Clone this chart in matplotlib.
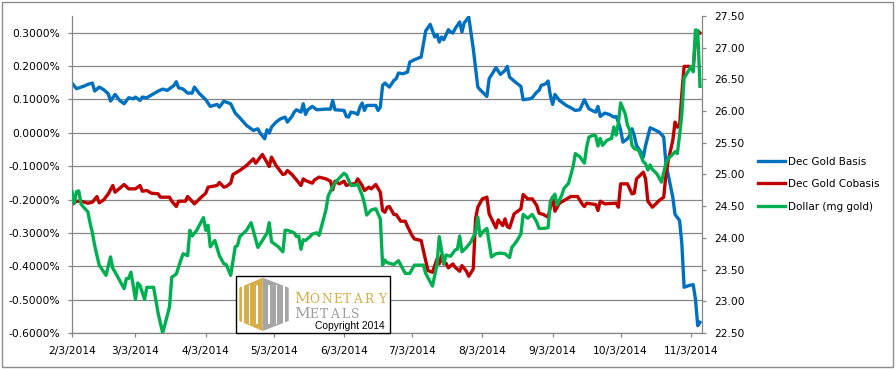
import matplotlib.pyplot as plt
import pandas as pd
from matplotlib.patches import Rectangle, Polygon

# Dec Gold Basis (%), left axis
basis_dates = [
    "2014-02-03", "2014-02-05", "2014-02-07", "2014-02-08", "2014-02-10", "2014-02-12", "2014-02-13",
    "2014-02-15", "2014-02-17", "2014-02-19", "2014-02-20", "2014-02-22", "2014-02-24", "2014-02-26",
    "2014-02-28", "2014-03-02", "2014-03-03", "2014-03-05", "2014-03-06", "2014-03-08", "2014-03-11",
    "2014-03-13", "2014-03-15", "2014-03-17", "2014-03-20", "2014-03-21", "2014-03-22", "2014-03-24",
    "2014-03-26", "2014-03-28", "2014-03-29", "2014-03-31", "2014-04-03", "2014-04-05", "2014-04-08",
    "2014-04-09", "2014-04-11", "2014-04-12", "2014-04-14", "2014-04-16", "2014-04-18", "2014-04-21",
    "2014-04-24", "2014-04-26", "2014-04-27", "2014-04-29", "2014-04-30", "2014-05-01", "2014-05-02",
    "2014-05-04", "2014-05-06", "2014-05-08", "2014-05-09", "2014-05-11", "2014-05-12", "2014-05-13",
    "2014-05-15", "2014-05-16", "2014-05-17", "2014-05-18", "2014-05-20", "2014-05-22", "2014-05-26",
    "2014-05-28", "2014-05-29", "2014-05-30", "2014-06-03", "2014-06-04", "2014-06-05", "2014-06-06",
    "2014-06-08", "2014-06-09", "2014-06-10", "2014-06-11", "2014-06-12", "2014-06-13", "2014-06-17",
    "2014-06-18", "2014-06-19", "2014-06-20", "2014-06-21", "2014-06-23", "2014-06-25", "2014-06-26",
    "2014-06-27", "2014-06-29", "2014-07-01", "2014-07-02", "2014-07-04", "2014-07-07", "2014-07-09",
    "2014-07-11", "2014-07-13", "2014-07-14", "2014-07-15", "2014-07-16", "2014-07-17", "2014-07-19",
    "2014-07-20", "2014-07-21", "2014-07-22", "2014-07-24", "2014-07-25", "2014-07-26", "2014-07-28",
    "2014-07-30", "2014-08-01", "2014-08-02", "2014-08-05", "2014-08-06", "2014-08-09", "2014-08-11",
    "2014-08-13", "2014-08-14", "2014-08-15", "2014-08-17", "2014-08-20", "2014-08-21", "2014-08-24",
    "2014-08-25", "2014-08-27", "2014-08-28", "2014-08-29", "2014-08-31", "2014-09-01", "2014-09-02",
    "2014-09-03", "2014-09-04", "2014-09-06", "2014-09-08", "2014-09-09", "2014-09-11", "2014-09-13",
    "2014-09-15", "2014-09-17", "2014-09-19", "2014-09-21", "2014-09-22", "2014-09-23", "2014-09-24",
    "2014-09-26", "2014-09-28", "2014-09-30", "2014-10-01", "2014-10-02", "2014-10-03", "2014-10-04",
    "2014-10-06", "2014-10-07", "2014-10-08", "2014-10-09", "2014-10-10", "2014-10-12", "2014-10-13",
    "2014-10-14", "2014-10-16", "2014-10-18", "2014-10-20", "2014-10-21", "2014-10-22", "2014-10-23",
    "2014-10-26", "2014-10-27", "2014-10-29", "2014-10-30", "2014-10-31", "2014-11-02", "2014-11-04",
    "2014-11-05", "2014-11-06", "2014-11-07",
]
basis_values = [
    0.149, 0.132, 0.137, 0.139, 0.145, 0.149, 0.125,
    0.137, 0.129, 0.117, 0.095, 0.115, 0.097, 0.087,
    0.105, 0.102, 0.107, 0.097, 0.107, 0.105, 0.117,
    0.125, 0.131, 0.127, 0.142, 0.153, 0.135, 0.131,
    0.119, 0.119, 0.137, 0.119, 0.099, 0.079, 0.085,
    0.077, 0.095, 0.092, 0.087, 0.059, 0.045, 0.022,
    0.007, 0.012, -0.001, -0.018, 0.009, -0.001, 0.017,
    0.032, 0.042, 0.047, 0.032, 0.049, 0.062, 0.069,
    0.062, 0.087, 0.055, 0.069, 0.079, 0.069, 0.071,
    0.071, 0.097, 0.069, 0.067, 0.049, 0.047, 0.062,
    0.059, 0.055, 0.077, 0.089, 0.067, 0.082, 0.082,
    0.067, 0.077, 0.142, 0.149, 0.137, 0.157, 0.162,
    0.179, 0.177, 0.182, 0.212, 0.219, 0.227, 0.305,
    0.325, 0.287, 0.295, 0.272, 0.287, 0.279, 0.309,
    0.302, 0.299, 0.312, 0.332, 0.302, 0.329, 0.347,
    0.252, 0.137, 0.129, 0.109, 0.162, 0.195, 0.175,
    0.187, 0.199, 0.167, 0.155, 0.139, 0.099, 0.102,
    0.105, 0.122, 0.127, 0.142, 0.147, 0.155, 0.112,
    0.085, 0.115, 0.097, 0.087, 0.082, 0.075, 0.067,
    0.069, 0.099, 0.072, 0.065, 0.062, 0.079, 0.049,
    0.059, 0.055, 0.047, 0.049, 0.032, 0.009, -0.028,
    -0.018, -0.008, 0.012, -0.008, -0.038, -0.058, -0.073,
    -0.038, 0.015, 0.009, 0.002, -0.005, -0.013, -0.093,
    -0.193, -0.245, -0.263, -0.333, -0.463, -0.458, -0.455,
    -0.498, -0.578, -0.568,
]

# Dec Gold Cobasis (%), left axis
cobasis_dates = [
    "2014-02-03", "2014-02-05", "2014-02-07", "2014-02-10", "2014-02-12", "2014-02-14", "2014-02-15",
    "2014-02-17", "2014-02-19", "2014-02-21", "2014-02-22", "2014-02-26", "2014-02-28", "2014-03-03",
    "2014-03-05", "2014-03-06", "2014-03-08", "2014-03-10", "2014-03-13", "2014-03-14", "2014-03-18",
    "2014-03-19", "2014-03-21", "2014-03-22", "2014-03-25", "2014-03-26", "2014-03-27", "2014-03-29",
    "2014-04-01", "2014-04-03", "2014-04-04", "2014-04-08", "2014-04-09", "2014-04-11", "2014-04-12",
    "2014-04-14", "2014-04-15", "2014-04-18", "2014-04-21", "2014-04-24", "2014-04-25", "2014-04-28",
    "2014-05-01", "2014-05-02", "2014-05-04", "2014-05-07", "2014-05-08", "2014-05-09", "2014-05-11",
    "2014-05-13", "2014-05-15", "2014-05-16", "2014-05-17", "2014-05-20", "2014-05-21", "2014-05-23",
    "2014-05-26", "2014-05-28", "2014-05-29", "2014-05-30", "2014-06-01", "2014-06-03", "2014-06-04",
    "2014-06-06", "2014-06-08", "2014-06-09", "2014-06-11", "2014-06-12", "2014-06-14", "2014-06-15",
    "2014-06-17", "2014-06-19", "2014-06-20", "2014-06-21", "2014-06-22", "2014-06-23", "2014-06-25",
    "2014-06-26", "2014-06-28", "2014-06-30", "2014-07-01", "2014-07-03", "2014-07-04", "2014-07-07",
    "2014-07-09", "2014-07-10", "2014-07-12", "2014-07-14", "2014-07-15", "2014-07-16", "2014-07-17",
    "2014-07-18", "2014-07-19", "2014-07-21", "2014-07-22", "2014-07-24", "2014-07-25", "2014-07-27",
    "2014-07-28", "2014-07-30", "2014-07-31", "2014-08-01", "2014-08-03", "2014-08-05", "2014-08-06",
    "2014-08-09", "2014-08-10", "2014-08-12", "2014-08-13", "2014-08-14", "2014-08-15", "2014-08-17",
    "2014-08-19", "2014-08-20", "2014-08-21", "2014-08-23", "2014-08-25", "2014-08-27", "2014-08-28",
    "2014-08-30", "2014-09-01", "2014-09-03", "2014-09-04", "2014-09-06", "2014-09-08", "2014-09-11",
    "2014-09-14", "2014-09-16", "2014-09-17", "2014-09-18", "2014-09-22", "2014-09-23", "2014-09-24",
    "2014-09-26", "2014-10-01", "2014-10-02", "2014-10-03", "2014-10-06", "2014-10-08", "2014-10-09",
    "2014-10-10", "2014-10-13", "2014-10-14", "2014-10-15", "2014-10-17", "2014-10-20", "2014-10-22",
    "2014-10-23", "2014-10-24", "2014-10-26", "2014-10-27", "2014-10-28", "2014-10-29", "2014-10-30",
    "2014-10-31", "2014-11-02", "2014-11-04", "2014-11-05", "2014-11-06", "2014-11-07",
]
cobasis_values = [
    -0.215, -0.205, -0.205, -0.211, -0.208, -0.191, -0.210,
    -0.201, -0.183, -0.158, -0.178, -0.155, -0.168, -0.168,
    -0.158, -0.175, -0.173, -0.181, -0.183, -0.193, -0.193,
    -0.205, -0.221, -0.205, -0.205, -0.191, -0.198, -0.213,
    -0.193, -0.181, -0.163, -0.158, -0.149, -0.163, -0.161,
    -0.151, -0.125, -0.113, -0.098, -0.078, -0.091, -0.065,
    -0.101, -0.073, -0.098, -0.125, -0.123, -0.113, -0.125,
    -0.141, -0.158, -0.138, -0.143, -0.151, -0.141, -0.133,
    -0.138, -0.145, -0.171, -0.145, -0.153, -0.145, -0.158,
    -0.153, -0.153, -0.138, -0.158, -0.173, -0.163, -0.168,
    -0.155, -0.178, -0.233, -0.238, -0.223, -0.221, -0.245,
    -0.245, -0.265, -0.265, -0.281, -0.308, -0.318, -0.323,
    -0.383, -0.413, -0.418, -0.378, -0.393, -0.368, -0.393,
    -0.391, -0.405, -0.393, -0.403, -0.415, -0.398, -0.415,
    -0.430, -0.408, -0.258, -0.223, -0.198, -0.193, -0.243,
    -0.285, -0.261, -0.278, -0.258, -0.281, -0.285, -0.243,
    -0.233, -0.228, -0.185, -0.198, -0.198, -0.218, -0.241,
    -0.245, -0.253, -0.193, -0.235, -0.211, -0.203, -0.191,
    -0.191, -0.213, -0.221, -0.211, -0.215, -0.233, -0.205,
    -0.213, -0.211, -0.223, -0.153, -0.153, -0.183, -0.181,
    -0.138, -0.118, -0.138, -0.205, -0.223, -0.203, -0.193,
    -0.123, -0.083, -0.023, 0.032, 0.017, 0.022, 0.117,
    0.199, 0.199, 0.195, 0.275, 0.305, 0.299,
]

# Dollar in mg gold, right axis
dollar_dates = [
    "2014-02-03", "2014-02-04", "2014-02-05", "2014-02-06", "2014-02-07", "2014-02-10", "2014-02-11",
    "2014-02-12", "2014-02-13", "2014-02-15", "2014-02-18", "2014-02-20", "2014-02-21", "2014-02-22",
    "2014-02-26", "2014-02-27", "2014-02-28", "2014-03-01", "2014-03-03", "2014-03-04", "2014-03-05",
    "2014-03-07", "2014-03-08", "2014-03-11", "2014-03-13", "2014-03-15", "2014-03-18", "2014-03-19",
    "2014-03-21", "2014-03-23", "2014-03-24", "2014-03-26", "2014-03-27", "2014-03-28", "2014-03-30",
    "2014-04-02", "2014-04-03", "2014-04-04", "2014-04-05", "2014-04-07", "2014-04-09", "2014-04-11",
    "2014-04-12", "2014-04-14", "2014-04-16", "2014-04-17", "2014-04-18", "2014-04-21", "2014-04-23",
    "2014-04-26", "2014-04-28", "2014-04-29", "2014-04-30", "2014-05-01", "2014-05-02", "2014-05-05",
    "2014-05-07", "2014-05-08", "2014-05-09", "2014-05-12", "2014-05-13", "2014-05-14", "2014-05-15",
    "2014-05-16", "2014-05-17", "2014-05-19", "2014-05-20", "2014-05-22", "2014-05-23", "2014-05-26",
    "2014-05-27", "2014-05-29", "2014-05-31", "2014-06-03", "2014-06-04", "2014-06-06", "2014-06-08",
    "2014-06-09", "2014-06-11", "2014-06-12", "2014-06-13", "2014-06-15", "2014-06-17", "2014-06-18",
    "2014-06-19", "2014-06-20", "2014-06-21", "2014-06-22", "2014-06-25", "2014-06-27", "2014-06-30",
    "2014-07-02", "2014-07-04", "2014-07-08", "2014-07-09", "2014-07-12", "2014-07-14", "2014-07-15",
    "2014-07-17", "2014-07-18", "2014-07-20", "2014-07-22", "2014-07-23", "2014-07-24", "2014-07-25",
    "2014-07-27", "2014-07-29", "2014-07-31", "2014-08-01", "2014-08-02", "2014-08-03", "2014-08-05",
    "2014-08-07", "2014-08-09", "2014-08-11", "2014-08-13", "2014-08-15", "2014-08-16", "2014-08-18",
    "2014-08-20", "2014-08-21", "2014-08-23", "2014-08-25", "2014-08-27", "2014-08-28", "2014-08-30",
    "2014-09-01", "2014-09-02", "2014-09-04", "2014-09-05", "2014-09-07", "2014-09-08", "2014-09-10",
    "2014-09-12", "2014-09-13", "2014-09-15", "2014-09-17", "2014-09-18", "2014-09-19", "2014-09-21",
    "2014-09-22", "2014-09-23", "2014-09-24", "2014-09-25", "2014-09-27", "2014-09-29", "2014-09-30",
    "2014-10-01", "2014-10-02", "2014-10-03", "2014-10-05", "2014-10-06", "2014-10-07", "2014-10-08",
    "2014-10-09", "2014-10-11", "2014-10-13", "2014-10-14", "2014-10-15", "2014-10-16", "2014-10-17",
    "2014-10-19", "2014-10-21", "2014-10-23", "2014-10-24", "2014-10-26", "2014-10-27", "2014-10-28",
    "2014-10-29", "2014-10-30", "2014-10-31", "2014-11-01", "2014-11-03", "2014-11-04", "2014-11-05",
    "2014-11-06", "2014-11-07",
]
dollar_values = [
    24.73, 24.55, 24.73, 24.74, 24.53, 24.41, 24.23,
    24.08, 23.88, 23.57, 23.41, 23.70, 23.52, 23.46,
    23.20, 23.36, 23.36, 23.46, 23.03, 23.29, 23.25,
    23.03, 23.22, 23.22, 22.81, 22.50, 22.91, 23.38,
    23.43, 23.65, 23.75, 23.72, 24.12, 24.03, 24.12,
    24.32, 24.12, 24.20, 23.86, 23.96, 23.72, 23.59,
    23.58, 23.41, 23.86, 23.88, 24.02, 24.12, 24.24,
    23.85, 23.96, 24.02, 24.07, 24.24, 23.94, 23.86,
    23.78, 24.12, 24.12, 24.08, 24.02, 24.03, 23.82,
    23.97, 23.96, 24.02, 24.06, 24.08, 24.04, 24.44,
    24.66, 24.81, 24.91, 25.02, 24.99, 24.83, 24.83,
    24.85, 24.67, 24.54, 24.36, 24.44, 24.46, 24.38,
    24.30, 23.57, 23.65, 23.61, 23.58, 23.64, 23.44,
    23.44, 23.57, 23.57, 23.44, 23.24, 23.58, 24.02,
    23.59, 23.73, 23.71, 23.81, 23.82, 24.03, 23.78,
    23.85, 23.94, 24.09, 24.33, 24.03, 24.09, 24.15,
    23.70, 23.75, 23.76, 23.75, 23.69, 23.85, 23.94,
    24.06, 24.37, 24.31, 24.37, 24.25, 24.15, 24.15,
    24.16, 24.58, 24.69, 24.52, 24.67, 24.78, 24.86,
    25.12, 25.33, 25.28, 25.18, 25.43, 25.59, 25.62,
    25.61, 25.45, 25.57, 25.46, 25.54, 25.57, 25.75,
    25.62, 25.81, 26.13, 25.96, 25.78, 25.70, 25.46,
    25.41, 25.38, 25.20, 25.17, 25.07, 25.15, 25.08,
    25.01, 24.88, 25.18, 25.25, 25.32, 25.36, 25.33,
    25.62, 25.95, 26.52, 26.58, 26.70, 26.62, 27.28,
    27.27, 26.39,
]

tick_dates = ["2014-02-03", "2014-03-03", "2014-04-03", "2014-05-03", "2014-06-03",
              "2014-07-03", "2014-08-03", "2014-09-03", "2014-10-03", "2014-11-03"]
tick_labels = ["2/3/2014", "3/3/2014", "4/3/2014", "5/3/2014", "6/3/2014",
               "7/3/2014", "8/3/2014", "9/3/2014", "10/3/2014", "11/3/2014"]
left_ticks = [-0.6, -0.5, -0.4, -0.3, -0.2, -0.1, 0.0, 0.1, 0.2, 0.3]
right_ticks = [22.5, 23.0, 23.5, 24.0, 24.5, 25.0, 25.5, 26.0, 26.5, 27.0, 27.5]

BLUE = "#0070C0"
RED = "#C00000"
GREEN = "#00B050"
GRID = "#868686"
GOLD = "#D6AE45"
SILVER = "#A5A5A5"

W, H = 896, 369


def px(x, y):
    return x / W, 1 - y / H


fig = plt.figure(figsize=(W / 100, H / 100), dpi=100)
ax = fig.add_axes([72 / W, 1 - 333 / H, (701.5 - 72) / W, (333 - 16) / H])
ax2 = ax.twinx()

lw = 2.4
l1, = ax.plot(pd.to_datetime(basis_dates), basis_values, color=BLUE, lw=lw,
              solid_joinstyle="round", label="Dec Gold Basis")
l2, = ax.plot(pd.to_datetime(cobasis_dates), cobasis_values, color=RED, lw=lw,
              solid_joinstyle="round", label="Dec Gold Cobasis")
l3, = ax2.plot(pd.to_datetime(dollar_dates), dollar_values, color=GREEN, lw=lw,
               solid_joinstyle="round", label="Dollar (mg gold)")

ax.set_xlim(pd.Timestamp("2014-02-03"), pd.Timestamp("2014-11-07 16:00"))
ax.set_ylim(-0.6, 0.35)
ax2.set_ylim(22.5, 27.5)

ax.set_xticks(pd.to_datetime(tick_dates))
ax.set_xticklabels(tick_labels)
ax.set_yticks(left_ticks)
ax.set_yticklabels([f"{v:.4f}%" for v in left_ticks])
ax2.set_yticks(right_ticks)
ax2.set_yticklabels([f"{v:.2f}" for v in right_ticks])

ax.yaxis.grid(True, color=GRID, lw=0.9)
ax.set_axisbelow(True)

for a in (ax, ax2):
    a.spines["top"].set_visible(False)
    for s in ("left", "right", "bottom"):
        a.spines[s].set_color(GRID)
        a.spines[s].set_linewidth(0.9)
ax.spines["right"].set_visible(False)
ax2.spines["left"].set_visible(False)
ax2.spines["bottom"].set_visible(False)

tick_font = 7.7
ax.tick_params(axis="x", length=3, width=0.9, color=GRID, pad=6.5, labelsize=tick_font)
ax.tick_params(axis="y", length=3, width=0.9, color=GRID, pad=5.5, labelsize=tick_font)
ax2.tick_params(axis="y", length=3, width=0.9, color=GRID, pad=6, labelsize=tick_font)

fig.legend(handles=[l1, l2, l3], loc="center left", bbox_to_anchor=px(758, 184),
           frameon=False, fontsize=7.5, handlelength=2.6, handletextpad=0.3,
           labelspacing=1.2, borderpad=0, borderaxespad=0)

# watermark box
x0, y0 = px(236, 333)
x1, y1 = px(389.5, 276)
fig.add_artist(Rectangle((x0, y0), x1 - x0, y1 - y0, transform=fig.transFigure,
                         facecolor="white", edgecolor="black", lw=1, zorder=5))

# logo: hexagon, gold left half and grey right half
gold_half = [px(239.3, 287.7), px(262.7, 277.7), px(262.7, 331), px(239.3, 321)]
grey_half = [px(262.7, 277.7), px(288.7, 287.7), px(288.7, 321), px(262.7, 331)]
fig.add_artist(Polygon(gold_half, closed=True, transform=fig.transFigure,
                       facecolor=GOLD, edgecolor="none", zorder=6))
fig.add_artist(Polygon(grey_half, closed=True, transform=fig.transFigure,
                       facecolor=SILVER, edgecolor="none", zorder=6))
for bx in (241.7, 248.6, 256.3, 268.2, 275.6, 283.2):
    bl, bb = px(bx, 324)
    br, bt = px(bx + 1.8, 285)
    fig.add_artist(Rectangle((bl, bb), br - bl, bt - bb, transform=fig.transFigure,
                             facecolor="white", edgecolor="none", zorder=7))

serif = "DejaVu Serif"
top_chars = "MONETARY"
top_x = [301.7, 314.3, 326.3, 337.5, 347.2, 357.7, 369.2, 382.3]
for i, (ch, cx) in enumerate(zip(top_chars, top_x)):
    fig.text(*px(cx, 302.7), ch, family=serif, fontsize=11 if i == 0 else 8.8,
             color=GOLD, ha="center", va="baseline", zorder=8)
bot_chars = "METALS"
bot_x = [301.7, 314.0, 324.0, 334.3, 345.3, 355.0]
for i, (ch, cx) in enumerate(zip(bot_chars, bot_x)):
    fig.text(*px(cx, 317.5), ch, family=serif, fontsize=11 if i == 0 else 8.8,
             color="#9C9C9C", ha="center", va="baseline", zorder=8)
fig.text(*px(315.3, 328.7), "Copyright 2014", family="Liberation Sans", fontsize=7.4,
         color="black", ha="left", va="baseline", zorder=8)

# chart border
bx0, by0 = px(1.5, 366.5)
bx1, by1 = px(893, 1.5)
fig.add_artist(Rectangle((bx0, by0), bx1 - bx0, by1 - by0, transform=fig.transFigure,
                         facecolor="none", edgecolor="#8C8C8C", lw=1, zorder=9))

fig.savefig("out.png", dpi=100)
